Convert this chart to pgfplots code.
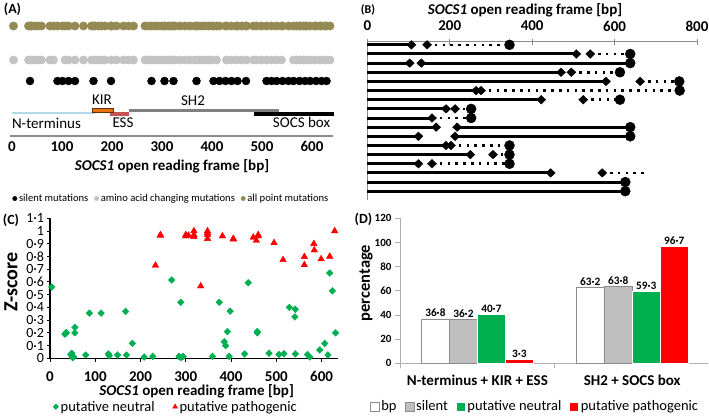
\documentclass[border=0pt]{standalone}
\usepackage{pgfplots}
\pgfplotsset{compat=1.18}
\usepackage{fontspec}
\setmainfont{Carlito}
\definecolor{olivedot}{RGB}{148,139,84}
\definecolor{graydot}{RGB}{195,195,195}
\definecolor{nterm}{RGB}{176,218,232}
\definecolor{kirfill}{RGB}{232,112,20}
\definecolor{kirdraw}{RGB}{100,50,10}
\definecolor{esscol}{RGB}{200,80,80}
\definecolor{sh2col}{RGB}{128,128,128}
\definecolor{neutral}{RGB}{0,176,80}
\definecolor{patho}{RGB}{255,0,0}
\definecolor{axgray}{RGB}{140,140,140}
\definecolor{axlight}{RGB}{175,175,175}
\definecolor{bargray}{RGB}{191,191,191}
\newcommand{\fs}[1]{\fontsize{#1}{#1}\selectfont}
\pgfplotsset{
  dotlegend/.style={legend image code/.code={\draw[##1] plot coordinates {(3pt,0pt)};}},
}
\begin{document}
\begin{tikzpicture}
\path[use as bounding box] (0pt,0pt) rectangle (709pt,419pt);
%================ Panel A
\begin{axis}[
  at={(10pt,283pt)}, anchor=south west, scale only axis,
  width=323pt, height=118pt,
  xmin=-4, xmax=642, ymin=-136, ymax=-18,
  clip=false,
  axis x line=bottom, axis y line=none,
  x axis line style={draw=axgray, line width=1.2pt, -},
  xtick={0,100,200,300,400,500,600}, major tick length=0pt,
  ytick=\empty,
  /pgf/number format/assume math mode=true,
  xticklabel style={font=\fs{15}\bfseries, anchor=center, yshift=-10.7pt},
  legend style={at={(0.5,-0.53)}, anchor=center, draw=none, fill=none,
     font=\fs{10.6}, legend columns=-1, inner sep=0pt,
     /tikz/every even column/.append style={column sep=4pt}},
]
\addlegendimage{only marks, mark=*, mark size=2.2pt, black, dotlegend}
\addlegendentry{silent mutations}
\addlegendimage{only marks, mark=*, mark size=2.2pt, graydot, dotlegend}
\addlegendentry{amino acid changing mutations}
\addlegendimage{only marks, mark=*, mark size=2.2pt, olivedot, dotlegend}
\addlegendentry{all point mutations}
% all point mutations (olive)
\addplot[only marks, mark=*, mark size=4.2pt, color=olivedot, forget plot] coordinates {
(3,-26)(33,-26)(39,-26)(46,-26)(53,-26)(59,-26)(76,-26)(83,-26)(106,-26)(113,-26)(126,-26)(143,-26)(159,-26)(166,-26)(173,-26)(179,-26)(186,-26)(199,-26)(209,-26)(223,-26)(233,-26)(243,-26)(266,-26)(273,-26)(279,-26)(286,-26)(293,-26)(299,-26)(306,-26)(313,-26)(319,-26)(326,-26)(336,-26)(346,-26)(356,-26)(366,-26)(373,-26)(379,-26)(386,-26)(393,-26)(399,-26)(409,-26)(429,-26)(439,-26)(449,-26)(459,-26)(469,-26)(483,-26)(489,-26)(499,-26)(509,-26)(519,-26)(529,-26)(539,-26)(563,-26)(569,-26)(576,-26)(583,-26)(589,-26)(596,-26)(606,-26)(616,-26)(626,-26)(636,-26)
(36,-26)(91,-26)(101,-26)(163,-26)(198,-26)(305,-26)(323,-26)(369,-26)(403,-26)(415,-26)(427,-26)(451,-26)(468,-26)(541,-26)(553,-26)(575,-26)(586,-26)(608,-26)(619,-26)(629,-26)};
% amino acid changing (gray)
\addplot[only marks, mark=*, mark size=4.2pt, color=graydot, forget plot] coordinates {
(3,-60)(33,-60)(39,-60)(46,-60)(53,-60)(59,-60)(76,-60)(83,-60)(106,-60)(113,-60)(126,-60)(143,-60)(159,-60)(166,-60)(173,-60)(179,-60)(186,-60)(199,-60)(209,-60)(223,-60)(233,-60)(243,-60)(266,-60)(273,-60)(279,-60)(286,-60)(293,-60)(299,-60)(306,-60)(313,-60)(319,-60)(326,-60)(336,-60)(346,-60)(356,-60)(366,-60)(373,-60)(379,-60)(386,-60)(393,-60)(399,-60)(409,-60)(429,-60)(439,-60)(449,-60)(459,-60)(469,-60)(483,-60)(489,-60)(499,-60)(509,-60)(519,-60)(529,-60)(539,-60)(563,-60)(569,-60)(576,-60)(583,-60)(589,-60)(596,-60)(606,-60)(616,-60)(626,-60)(636,-60)};
% silent (black)
\addplot[only marks, mark=*, mark size=4pt, color=black, forget plot] coordinates {
(36,-81)(91,-81)(101,-81)(113,-81)(126,-81)(163,-81)(198,-81)(279,-81)(305,-81)(323,-81)(369,-81)(403,-81)(415,-81)(427,-81)(439,-81)(451,-81)(468,-81)(509,-81)(519,-81)(529,-81)(541,-81)(553,-81)(563,-81)(575,-81)(586,-81)(596,-81)(608,-81)(619,-81)(629,-81)};
% domains
\addplot[nterm, line width=2.8pt, forget plot] coordinates {(0,-113)(166,-113)};
\addplot[sh2col, line width=3.3pt, forget plot] coordinates {(233,-110.7)(533,-110.7)};
\addplot[black, line width=4pt, forget plot] coordinates {(483,-113.7)(643,-113.7)};
\addplot[esscol, line width=4pt, forget plot] coordinates {(196,-113.7)(233,-113.7)};
\addplot[fill=kirfill, draw=kirdraw, line width=1pt, forget plot] coordinates {(160,-109)(202,-109)(202,-112.3)(160,-112.3)(160,-109)};
\node[font=\fs{15}] at (axis cs:180,-100) {KIR};
\node[font=\fs{15}] at (axis cs:362,-101) {SH2};
\node[font=\fs{15}] at (axis cs:69,-123) {N-terminus};
\node[font=\fs{15}] at (axis cs:222,-123) {ESS};
\node[font=\fs{15}] at (axis cs:579,-122) {SOCS box};
\end{axis}
\node[font=\fs{15}\bfseries] at (172pt,253pt) {\textit{SOCS1} open reading frame [bp]};
\node[font=\fs{14}\bfseries] at (12.5pt,410pt) {(A)};

%================ Panel B
\begin{axis}[
  at={(367.3pt,219pt)}, anchor=south west, scale only axis,
  width=329.7pt, height=158pt,
  xmin=0, xmax=800, ymin=-17.96, ymax=-0.69,
  clip=false,
  axis x line=top, axis y line=left,
  axis line style={draw=axgray, line width=1pt, -},
  xtick={0,200,400,600,800}, ytick=\empty,
  tick align=center, major tick length=6pt,
  x tick style={draw=axgray, line width=1pt},
  /pgf/number format/assume math mode=true,
  xticklabel style={font=\fs{15}\bfseries, anchor=center, yshift=13pt},
  unbounded coords=jump,
]
\addplot[black, line width=3pt] coordinates {
(0,-1)(107,-1)(0,nan)
(0,-2)(507,-2)(0,nan)
(0,-3)(103,-3)(0,nan)(131,-3)(638,-3)(0,nan)
(0,-4)(470,-4)(0,nan)
(0,-5)(579,-5)(0,nan)
(0,-6)(264,-6)(0,nan)
(0,-7)(422,-7)(0,nan)
(0,-8)(191,-8)(0,nan)
(0,-9)(157,-9)(0,nan)
(0,-10)(167,-10)(0,nan)(218,-10)(638,-10)(0,nan)
(0,-11)(124,-11)(0,nan)(213,-11)(638,-11)(0,nan)
(0,-12)(191,-12)(0,nan)
(0,-13)(250,-13)(0,nan)
(0,-14)(124,-14)(0,nan)
(0,-15)(445,-15)(0,nan)
(0,-16)(626,-16)(0,nan)
(0,-17)(626,-17)};
\addplot[black, line width=2.6pt, dash pattern=on 2.6pt off 5.2pt] coordinates {
(145,-1)(345,-1)(0,nan)
(541,-2)(638,-2)(0,nan)
(495,-4)(613,-4)(0,nan)
(662,-5)(757,-5)(0,nan)
(276,-6)(758,-6)(0,nan)
(524,-7)(613,-7)(0,nan)
(213,-8)(252,-8)(0,nan)
(157,-9)(252,-9)(0,nan)
(203,-12)(345,-12)(0,nan)
(305,-13)(345,-13)(0,nan)
(157,-14)(345,-14)(0,nan)
(570,-15)(674,-15)};
\addplot[only marks, black, mark=diamond*, mark size=4.3pt, mark options={xscale=1.4}] coordinates {
(107,-1)(145,-1)(507,-2)(541,-2)(103,-3)(131,-3)(470,-4)(495,-4)(579,-5)(662,-5)(264,-6)(276,-6)(422,-7)(524,-7)(191,-8)(213,-8)(157,-9)(167,-10)(218,-10)(124,-11)(213,-11)(191,-12)(203,-12)(250,-13)(305,-13)(124,-14)(157,-14)(445,-15)(570,-15)};
\addplot[only marks, black, mark=*, mark size=5pt] coordinates {
(345,-1)(638,-2)(638,-3)(613,-4)(757,-5)(758,-6)(613,-7)(252,-8)(252,-9)(638,-10)(638,-11)(345,-12)(345,-13)(345,-14)(626,-16)(626,-17)};
\end{axis}
\node[font=\fs{15}\bfseries] at (525pt,409pt) {\textit{SOCS1} open reading frame [bp]};
\node[font=\fs{12}\bfseries] at (368pt,409pt) {(B)};

%================ Panel C
\begin{axis}[
  at={(50pt,60.7pt)}, anchor=south west, scale only axis,
  width=288.3pt, height=140pt,
  xmin=0, xmax=637, ymin=0, ymax=1.1,
  clip=false,
  axis lines=left, axis line style={black, line width=1.3pt, -},
  xtick={0,100,200,300,400,500,600},
  ytick={0,0.1,0.2,0.3,0.4,0.5,0.6,0.7,0.8,0.9,1,1.1},
  yticklabels={0,0·1,0·2,0·3,0·4,0·5,0·6,0·7,0·8,0·9,1,1·1},
  tick align=outside, major tick length=3.5pt, tick style={black, line width=1pt},
  /pgf/number format/assume math mode=true,
  xticklabel style={font=\fs{15}\bfseries, anchor=center, yshift=-14.4pt},
  yticklabel style={font=\fs{14}, inner sep=0.3pt, xshift=-2pt},
  legend image code/.code={\draw[#1, mark size=2.8pt] plot coordinates {(3pt,0pt)};},
  legend style={at={(0.437,-0.346)}, anchor=center, draw=none, fill=none,
     font=\fs{14.5}, legend columns=-1, inner sep=0pt,
     /tikz/every even column/.append style={column sep=16pt}},
]
\addplot[only marks, mark=diamond*, mark size=3.4pt, mark options={xscale=1.3}, color=neutral] coordinates {
(4,0.56)(33,0.19)(35,0.196)(36,0.203)(55,0.243)(55,0.2)(46,0.03)(48,0.04)(49,0.02)(50,0.005)(52,0.012)
(79,0.026)(87,0.355)(113,0.355)(129,0.035)(131,0.02)(149,0.026)(167,0.368)(169,0.026)(182,0.117)
(208,0.01)(227,0.015)(269,0.615)(285,0.015)(289,0.005)(294,0.015)(289,0.44)(359,0.015)(374,0.44)
(385,0.13)(388,0.1)(392,0.21)(396,0.015)(398,0.37)(430,0.034)(438,0.593)(458,0.21)(458,0.2)
(484,0.04)(506,0.03)(517,0.035)(529,0.40)(542,0.385)(541,0.325)(542,0.035)(569,0.03)(574,0.01)
(596,0.065)(607,0.117)(614,0.026)(618,0.67)(624,0.53)(631,0.2)};
\addlegendentry{putative neutral}
\addplot[only marks, mark=triangle*, mark size=3.8pt, color=patho] coordinates {
(233,0.73)(244,0.97)(244,0.965)(300,0.97)(300,0.96)(306,0.965)(318,1.0)(318,0.97)(318,0.955)(333,0.567)
(348,1.0)(348,0.985)(348,0.97)(348,0.94)(381,0.96)(405,0.94)(405,0.935)(449,0.95)(456,0.925)(460,0.97)
(460,0.96)(495,0.907)(515,0.774)(562,0.798)(562,0.734)(583,0.9)(584,0.85)(599,0.78)(618,0.8)(629,1.0)};
\addlegendentry{putative pathogenic}
\end{axis}
\node[font=\fs{15}\bfseries] at (196.7pt,27.3pt) {\textit{SOCS1} open reading frame [bp]};
\node[font=\fs{20}\bfseries, rotate=90, inner sep=0pt] at (11pt,137pt) {Z-score};
\node[font=\fs{14}\bfseries] at (11pt,199pt) {(C)};

%================ Panel D
\begin{axis}[
  at={(400pt,55.7pt)}, anchor=south west, scale only axis,
  width=308pt, height=145pt,
  xmin=-0.5, xmax=1.49, ymin=0, ymax=120,
  clip=false,
  ybar=0pt, bar width=28pt,
  axis lines=left, axis line style={draw=axlight, line width=0.8pt, -},
  xtick={-0.5,0.5}, xticklabels={},
  extra x ticks={0,1},
  extra x tick labels={N-terminus + KIR + ESS, SH2 + SOCS box},
  extra x tick style={major tick length=0pt, xticklabel style={font=\fs{15}\bfseries, anchor=center, yshift=-16.7pt}},
  ytick={0,20,40,60,80,100,120},
  tick align=outside, major tick length=5pt,
  tick style={draw=axlight, line width=0.8pt},
  /pgf/number format/assume math mode=true,
  yticklabel style={font=\fs{11}\bfseries},
  point meta=explicit symbolic,
  nodes near coords,
  nodes near coords style={font=\fs{11.3}\bfseries, inner sep=1.5pt},
  legend image code/.code={\draw[#1] (0pt,-4.5pt) rectangle (9pt,4.5pt);},
  legend style={at={(0.438,-0.299)}, anchor=center, draw=none, fill=none,
     font=\fs{14.5}, legend columns=-1, inner sep=0pt,
     /tikz/every even column/.append style={column sep=6pt}},
]
\addplot[fill=white, draw=axgray, line width=0.6pt] coordinates {(0,36.8) [36·8] (1,63.2) [63·2]};
\addlegendentry{bp}
\addplot[fill=bargray, draw=axgray, line width=0.6pt] coordinates {(0,36.2) [36·2] (1,63.8) [63·8]};
\addlegendentry{silent}
\addplot[fill=neutral, draw=white, line width=0.4pt] coordinates {(0,40.7) [40·7] (1,59.3) [59·3]};
\addlegendentry{putative neutral}
\addplot[fill=patho, draw=white, line width=0.4pt] coordinates {(0,3.3) [3·3] (1,96.7) [96·7]};
\addlegendentry{putative pathogenic}
\end{axis}
\node[font=\fs{16.5}\bfseries, rotate=90, inner sep=0pt] at (366pt,136pt) {percentage};
\node[font=\fs{14}\bfseries] at (363.5pt,200pt) {(D)};
\end{tikzpicture}
\end{document}
